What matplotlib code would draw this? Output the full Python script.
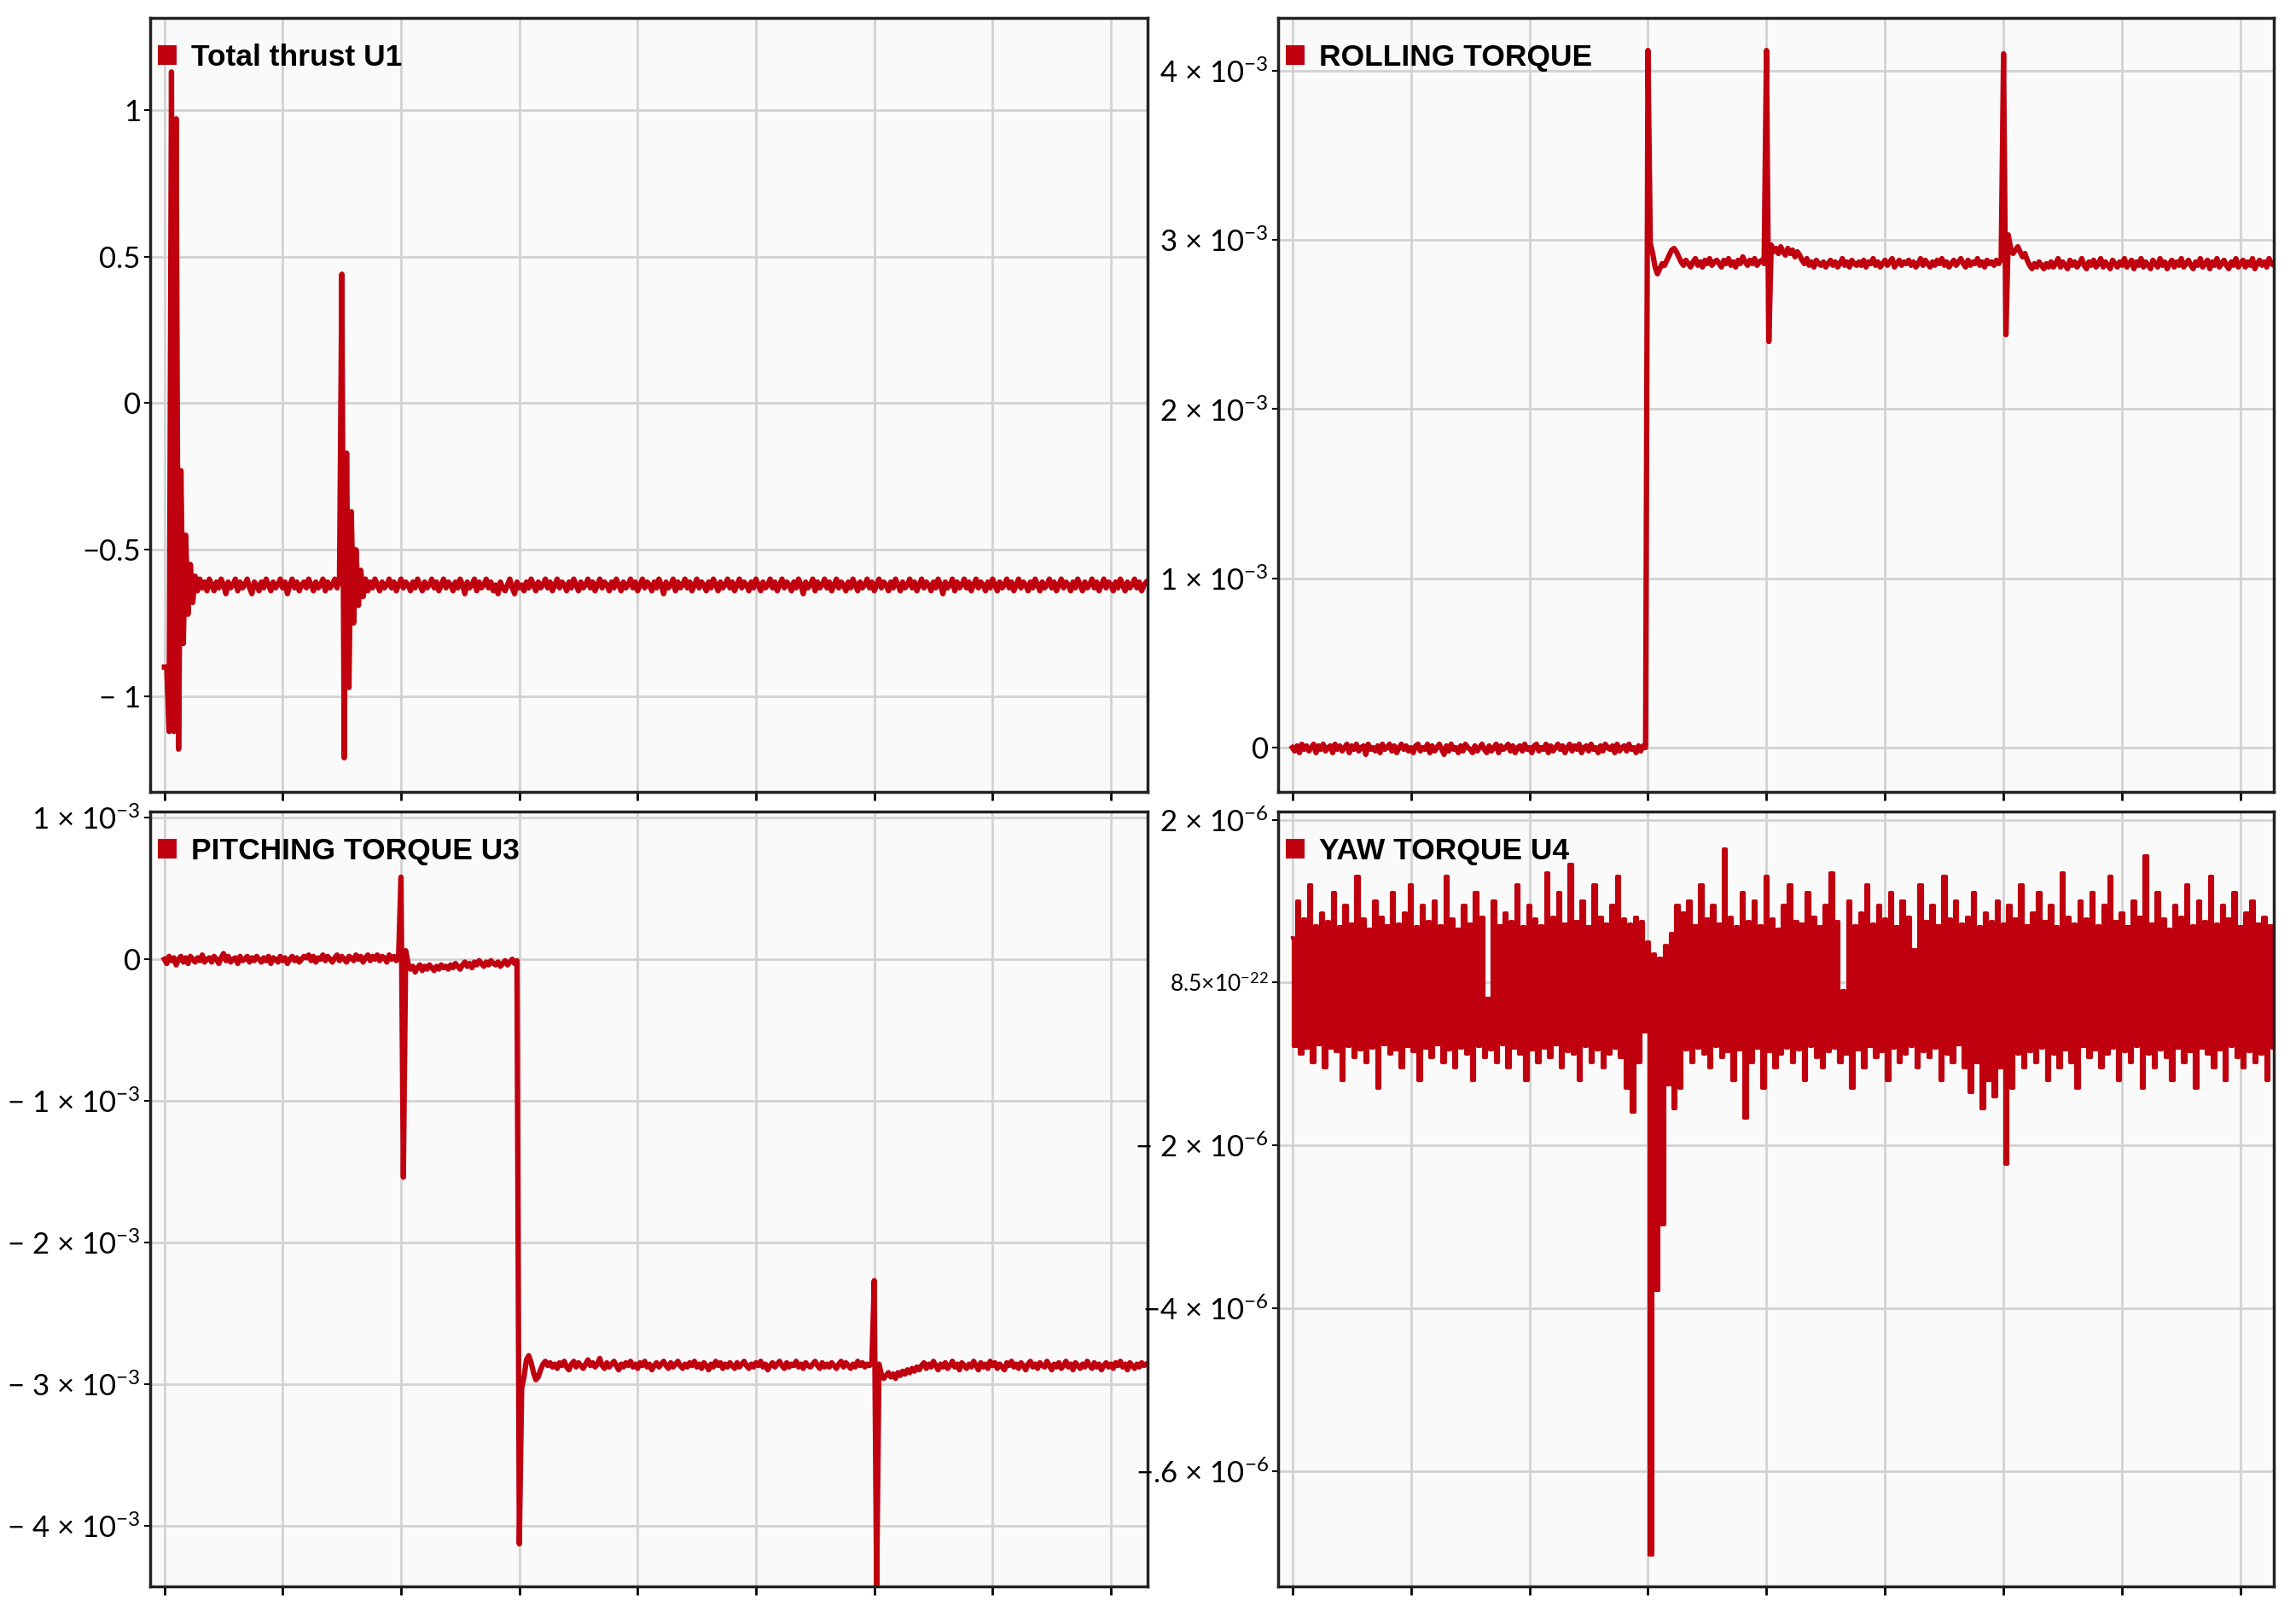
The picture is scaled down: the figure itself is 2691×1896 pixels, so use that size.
# quadrotor control inputs, 4 panels (U1 thrust, U2 roll, U3 pitch, U4 yaw)
# values, torques kept in 1e-3 / 1e-6 units
import numpy as np
import matplotlib.pyplot as plt
from matplotlib.patches import Patch

plt.rcParams['font.family'] = ['Lato', 'DejaVu Sans']
plt.rcParams['mathtext.fontset'] = 'custom'
plt.rcParams['mathtext.rm'] = 'Lato'
plt.rcParams['mathtext.it'] = 'Lato:italic'
plt.rcParams['mathtext.bf'] = 'Lato:bold'

dt = 0.02        # sample step for U1..U3
dt_yaw = 0.025   # yaw drawn as steps

# total thrust U1
u1 = [-0.90, -0.90, -1.12, 1.13, -1.12, 0.97, -1.18, -0.23, -0.82, -0.45, -0.72, -0.55, -0.68, -0.59, -0.64, -0.60, -0.63, -0.61, -0.64, -0.60,
      -0.62, -0.64, -0.61, -0.63, -0.60, -0.62, -0.65, -0.61, -0.63, -0.62, -0.60, -0.64, -0.61, -0.63, -0.62, -0.60, -0.63, -0.65, -0.61, -0.62,
      -0.64, -0.61, -0.63, -0.60, -0.62, -0.64, -0.61, -0.63, -0.62, -0.60, -0.63, -0.61, -0.65, -0.62, -0.60, -0.63, -0.61, -0.64, -0.62, -0.61,
      -0.63, -0.60, -0.62, -0.64, -0.61, -0.63, -0.62, -0.60, -0.64, -0.61, -0.63, -0.62, -0.60, -0.63, -0.60, 0.44, -1.21, -0.17, -0.97, -0.37,
      -0.75, -0.50, -0.69, -0.57, -0.66, -0.60, -0.64, -0.61, -0.63, -0.60, -0.62, -0.64, -0.61, -0.63, -0.62, -0.60, -0.63, -0.61, -0.64, -0.62,
      -0.60, -0.63, -0.61, -0.62, -0.64, -0.61, -0.63, -0.60, -0.62, -0.64, -0.61, -0.63, -0.62, -0.60, -0.63, -0.61, -0.64, -0.62, -0.60, -0.63,
      -0.61, -0.62, -0.64, -0.61, -0.63, -0.60, -0.62, -0.65, -0.61, -0.63, -0.62, -0.60, -0.64, -0.61, -0.63, -0.62, -0.60, -0.63, -0.61, -0.64,
      -0.62, -0.65, -0.61, -0.63, -0.64, -0.62, -0.60, -0.63, -0.65, -0.61, -0.63, -0.62, -0.64, -0.61, -0.63, -0.60, -0.62, -0.64, -0.61, -0.63,
      -0.62, -0.60, -0.63, -0.61, -0.64, -0.62, -0.60, -0.63, -0.61, -0.62, -0.64, -0.61, -0.63, -0.60, -0.62, -0.64, -0.61, -0.63, -0.62, -0.60,
      -0.63, -0.61, -0.64, -0.62, -0.60, -0.63, -0.61, -0.62, -0.64, -0.61, -0.63, -0.60, -0.62, -0.64, -0.61, -0.63, -0.62, -0.60, -0.63, -0.61,
      -0.64, -0.62, -0.60, -0.63, -0.61, -0.62, -0.64, -0.61, -0.63, -0.60, -0.62, -0.65, -0.61, -0.63, -0.62, -0.60, -0.64, -0.61, -0.63, -0.62,
      -0.60, -0.63, -0.61, -0.64, -0.62, -0.60, -0.63, -0.61, -0.62, -0.64, -0.61, -0.63, -0.60, -0.62, -0.64, -0.61, -0.63, -0.62, -0.60, -0.63,
      -0.61, -0.64, -0.62, -0.60, -0.63, -0.61, -0.62, -0.64, -0.61, -0.63, -0.60, -0.62, -0.64, -0.61, -0.63, -0.62, -0.60, -0.63, -0.61, -0.64,
      -0.62, -0.60, -0.63, -0.61, -0.62, -0.64, -0.61, -0.63, -0.60, -0.62, -0.65, -0.61, -0.63, -0.62, -0.60, -0.64, -0.61, -0.63, -0.62, -0.60,
      -0.63, -0.61, -0.64, -0.62, -0.60, -0.63, -0.61, -0.62, -0.64, -0.61, -0.63, -0.60, -0.62, -0.64, -0.61, -0.63, -0.62, -0.60, -0.63, -0.61,
      -0.64, -0.62, -0.60, -0.63, -0.61, -0.62, -0.64, -0.61, -0.63, -0.60, -0.62, -0.64, -0.61, -0.63, -0.62, -0.60, -0.63, -0.61, -0.64, -0.62,
      -0.60, -0.63, -0.61, -0.62, -0.64, -0.61, -0.63, -0.60, -0.62, -0.65, -0.61, -0.63, -0.62, -0.60, -0.64, -0.61, -0.63, -0.62, -0.60, -0.63,
      -0.61, -0.64, -0.62, -0.60, -0.63, -0.61, -0.62, -0.64, -0.61, -0.63, -0.60, -0.62, -0.64, -0.61, -0.63, -0.62, -0.60, -0.63, -0.61, -0.64,
      -0.62, -0.60, -0.63, -0.61, -0.62, -0.64, -0.61, -0.63, -0.60, -0.62, -0.64, -0.61, -0.63, -0.62, -0.60, -0.63, -0.61, -0.64, -0.62, -0.60,
      -0.63, -0.61, -0.62, -0.64, -0.61, -0.63, -0.60, -0.62, -0.64, -0.61, -0.63, -0.62, -0.60, -0.63, -0.61, -0.64, -0.62, -0.60, -0.63, -0.61,
      -0.62, -0.64, -0.61, -0.63, -0.60, -0.62, -0.64, -0.61, -0.63, -0.62, -0.60, -0.63, -0.61, -0.64, -0.62, -0.61]

# rolling torque, x1e-3
u2 = [0.00, -0.02, 0.01, -0.03, 0.02, -0.01, 0.01, -0.02, 0.00, 0.02, -0.03, 0.01, -0.01, 0.02, -0.02, 0.00, 0.01, -0.03, 0.02, -0.01,
      0.01, -0.02, 0.00, 0.02, -0.03, 0.01, -0.01, 0.02, -0.02, 0.00, 0.01, -0.04, 0.02, -0.01, 0.00, -0.02, 0.01, -0.03, 0.02, -0.01,
      0.00, 0.02, -0.02, 0.01, -0.03, 0.00, 0.02, -0.01, 0.01, -0.02, 0.00, -0.03, 0.01, 0.02, -0.02, 0.00, -0.01, 0.02, -0.03, 0.01,
      -0.02, 0.00, 0.02, -0.01, -0.04, 0.01, -0.02, 0.02, -0.01, 0.00, -0.03, 0.01, -0.02, 0.02, 0.00, -0.01, -0.03, 0.01, -0.02, 0.00,
      0.02, -0.01, -0.03, 0.01, -0.02, 0.00, 0.02, -0.03, 0.01, -0.01, 0.00, 0.02, -0.02, 0.01, -0.03, 0.00, 0.01, -0.02, 0.02, -0.01,
      0.00, -0.03, 0.01, 0.02, -0.02, 0.00, -0.01, 0.02, -0.03, 0.01, -0.02, 0.00, 0.02, -0.01, 0.01, -0.03, 0.00, 0.02, -0.02, 0.01,
      -0.01, 0.02, -0.03, 0.00, 0.01, -0.02, 0.02, -0.01, 0.00, -0.03, 0.01, -0.02, 0.02, 0.00, -0.01, 0.01, -0.03, 0.02, -0.02, 0.00,
      0.01, -0.02, 0.02, -0.01, 0.00, -0.03, 0.01, -0.02, 0.01, 0.00, 4.12, 2.98, 2.92, 2.84, 2.80, 2.83, 2.86, 2.85, 2.88, 2.91,
      2.94, 2.95, 2.93, 2.90, 2.87, 2.85, 2.88, 2.86, 2.84, 2.87, 2.89, 2.85, 2.87, 2.84, 2.88, 2.86, 2.89, 2.85, 2.87, 2.88,
      2.86, 2.84, 2.88, 2.86, 2.89, 2.85, 2.87, 2.84, 2.88, 2.86, 2.90, 2.87, 2.85, 2.88, 2.86, 2.89, 2.85, 2.87, 2.88, 2.86,
      4.12, 2.40, 2.97, 2.93, 2.95, 2.92, 2.96, 2.93, 2.91, 2.95, 2.92, 2.94, 2.90, 2.93, 2.91, 2.88, 2.86, 2.89, 2.85, 2.87,
      2.84, 2.88, 2.86, 2.85, 2.87, 2.84, 2.86, 2.88, 2.85, 2.87, 2.84, 2.86, 2.89, 2.85, 2.87, 2.84, 2.88, 2.86, 2.85, 2.87,
      2.85, 2.88, 2.84, 2.87, 2.86, 2.89, 2.85, 2.87, 2.84, 2.86, 2.88, 2.85, 2.87, 2.89, 2.84, 2.86, 2.88, 2.85, 2.87, 2.86,
      2.88, 2.85, 2.87, 2.84, 2.86, 2.89, 2.85, 2.88, 2.86, 2.84, 2.87, 2.85, 2.88, 2.86, 2.89, 2.85, 2.87, 2.84, 2.86, 2.88,
      2.85, 2.87, 2.89, 2.86, 2.84, 2.88, 2.85, 2.87, 2.86, 2.89, 2.85, 2.87, 2.84, 2.88, 2.86, 2.87, 2.85, 2.88, 2.86, 2.89,
      4.10, 2.44, 3.03, 2.95, 2.92, 2.94, 2.96, 2.93, 2.90, 2.92, 2.88, 2.85, 2.83, 2.86, 2.84, 2.87, 2.85, 2.83, 2.86, 2.84,
      2.87, 2.84, 2.86, 2.89, 2.84, 2.87, 2.85, 2.83, 2.88, 2.85, 2.87, 2.84, 2.86, 2.89, 2.85, 2.83, 2.87, 2.85, 2.88, 2.84,
      2.86, 2.89, 2.84, 2.87, 2.85, 2.83, 2.88, 2.86, 2.84, 2.87, 2.85, 2.89, 2.84, 2.86, 2.88, 2.83, 2.87, 2.85, 2.89, 2.84,
      2.87, 2.85, 2.83, 2.88, 2.86, 2.84, 2.89, 2.85, 2.87, 2.83, 2.86, 2.88, 2.84, 2.87, 2.85, 2.89, 2.84, 2.86, 2.88, 2.85,
      2.83, 2.87, 2.85, 2.89, 2.84, 2.86, 2.88, 2.83, 2.87, 2.85, 2.89, 2.84, 2.86, 2.88, 2.85, 2.83, 2.87, 2.85, 2.89, 2.84,
      2.86, 2.88, 2.84, 2.87, 2.85, 2.89, 2.83, 2.86, 2.88, 2.85, 2.87, 2.84, 2.89, 2.86, 2.85, 2.87]

# pitching torque, x1e-3
u3 = [0.00, -0.03, 0.02, -0.01, 0.01, -0.04, 0.00, 0.02, -0.02, 0.01, -0.03, 0.02, 0.00, -0.02, 0.01, -0.01, 0.03, -0.02, 0.00, 0.01,
      -0.02, 0.02, 0.00, -0.03, 0.01, 0.04, -0.01, 0.02, -0.02, 0.00, 0.01, -0.03, 0.02, -0.01, 0.00, 0.02, -0.02, 0.01, -0.01, 0.02,
      0.00, -0.02, 0.01, -0.01, 0.02, -0.03, 0.01, 0.00, -0.02, 0.02, -0.01, 0.01, -0.03, 0.00, 0.02, -0.01, 0.01, -0.02, 0.00, 0.02,
      0.01, 0.03, -0.01, 0.02, -0.02, 0.01, 0.00, 0.03, -0.01, 0.02, 0.00, -0.02, 0.01, 0.03, -0.01, 0.02, 0.00, -0.02, 0.02, 0.01,
      -0.01, 0.03, 0.00, 0.02, -0.02, 0.01, 0.03, -0.01, 0.02, 0.00, 0.03, -0.01, 0.02, 0.01, -0.02, 0.03, 0.00, 0.02, -0.01, 0.03,
      0.58, -1.54, 0.06, -0.03, -0.07, -0.05, -0.09, -0.06, -0.04, -0.08, -0.05, -0.07, -0.04, -0.06, -0.08, -0.05, -0.07, -0.04, -0.06, -0.05,
      -0.07, -0.04, -0.06, -0.03, -0.05, -0.07, -0.04, -0.02, -0.05, -0.03, -0.06, -0.02, -0.04, -0.01, -0.03, -0.05, -0.02, -0.04, -0.01, -0.03,
      -0.04, -0.02, -0.05, -0.03, -0.01, -0.04, -0.02, 0.00, -0.03, -0.01, -4.13, -3.03, -2.95, -2.83, -2.80, -2.85, -2.92, -2.97, -2.95, -2.90,
      -2.86, -2.84, -2.87, -2.85, -2.88, -2.86, -2.89, -2.85, -2.87, -2.84, -2.88, -2.90, -2.86, -2.84, -2.88, -2.85, -2.87, -2.89, -2.86, -2.83,
      -2.87, -2.85, -2.88, -2.86, -2.82, -2.87, -2.89, -2.85, -2.88, -2.86, -2.84, -2.87, -2.90, -2.86, -2.88, -2.85, -2.87, -2.84, -2.88, -2.86,
      -2.89, -2.85, -2.87, -2.84, -2.88, -2.86, -2.90, -2.87, -2.85, -2.88, -2.86, -2.84, -2.87, -2.89, -2.85, -2.88, -2.86, -2.84, -2.87, -2.89,
      -2.86, -2.88, -2.85, -2.87, -2.84, -2.88, -2.86, -2.89, -2.85, -2.87, -2.90, -2.86, -2.88, -2.84, -2.87, -2.85, -2.89, -2.86, -2.88, -2.85,
      -2.87, -2.89, -2.85, -2.88, -2.86, -2.84, -2.87, -2.89, -2.86, -2.88, -2.85, -2.87, -2.84, -2.88, -2.86, -2.90, -2.87, -2.85, -2.88, -2.86,
      -2.84, -2.87, -2.89, -2.85, -2.88, -2.86, -2.87, -2.84, -2.88, -2.86, -2.89, -2.85, -2.87, -2.88, -2.86, -2.84, -2.87, -2.89, -2.85, -2.88,
      -2.86, -2.88, -2.85, -2.87, -2.89, -2.86, -2.84, -2.88, -2.85, -2.87, -2.89, -2.86, -2.88, -2.84, -2.87, -2.85, -2.88, -2.86, -2.87, -2.85,
      -2.27, -4.45, -2.86, -2.93, -2.96, -2.94, -2.92, -2.95, -2.93, -2.96, -2.92, -2.94, -2.91, -2.93, -2.90, -2.92, -2.89, -2.91, -2.88, -2.90,
      -2.87, -2.85, -2.89, -2.86, -2.88, -2.84, -2.87, -2.90, -2.86, -2.88, -2.85, -2.89, -2.87, -2.84, -2.88, -2.86, -2.90, -2.85, -2.87, -2.89,
      -2.86, -2.88, -2.84, -2.87, -2.90, -2.85, -2.88, -2.86, -2.89, -2.84, -2.87, -2.85, -2.89, -2.86, -2.88, -2.90, -2.85, -2.87, -2.84, -2.88,
      -2.86, -2.89, -2.85, -2.87, -2.90, -2.86, -2.84, -2.88, -2.86, -2.89, -2.85, -2.87, -2.88, -2.84, -2.87, -2.90, -2.86, -2.88, -2.85, -2.89,
      -2.87, -2.84, -2.88, -2.86, -2.90, -2.85, -2.87, -2.89, -2.86, -2.88, -2.84, -2.87, -2.89, -2.85, -2.88, -2.86, -2.90, -2.87, -2.85, -2.88,
      -2.86, -2.89, -2.85, -2.87, -2.84, -2.88, -2.86, -2.90, -2.85, -2.87, -2.89, -2.86, -2.88, -2.85, -2.87, -2.86]

# yaw torque, x1e-6 (alternating high/low, it is basically a noise band)
u4 = [0.55, -0.78, 1.00, -0.88, 0.78, -0.80, 1.20, -0.98, 0.70, -0.76, 0.85, -1.05,
      0.75, -0.80, 1.10, -0.85, 0.68, -1.20, 0.95, -0.78, 0.72, -0.92, 1.30, -0.82,
      0.78, -0.98, 0.65, -0.80, 1.00, -1.30, 0.80, -0.76, 0.70, -0.88, 1.10, -0.82,
      0.72, -1.05, 0.85, -0.78, 1.20, -0.85, 0.68, -1.20, 0.95, -0.80, 0.75, -0.92,
      1.00, -0.76, 0.70, -0.98, 1.30, -0.82, 0.78, -1.05, 0.65, -0.80, 0.95, -0.88,
      0.72, -1.20, 1.10, -0.78, 0.80, -0.92, -0.20, -0.82, 1.00, -0.98, 0.70, -0.76,
      0.85, -1.05, 0.75, -0.80, 1.20, -0.88, 0.68, -1.20, 0.95, -0.82, 0.78, -0.98,
      0.70, -0.80, 1.35, -0.92, 0.80, -0.76, 1.10, -1.05, 0.72, -0.85, 1.45, -0.88,
      0.75, -1.20, 1.00, -0.78, 0.68, -0.98, 1.20, -0.82, 0.80, -1.05, 0.72, -0.88,
      0.95, -0.80, 1.30, -0.92, 0.78, -1.30, 0.72, -1.59, 0.80, -0.98, 0.75, -0.60,
      0.50, -7.03, 0.35, -3.78, 0.30, -2.97, 0.45, -1.25, 0.60, -1.55, 0.95, -1.30,
      0.85, -0.82, 1.00, -0.98, 0.70, -0.80, 1.20, -0.88, 0.78, -1.05, 0.95, -0.78,
      0.72, -0.92, 1.64, -0.85, 0.80, -1.20, 0.68, -0.82, 1.10, -1.66, 0.75, -0.98,
      1.00, -0.80, 0.70, -1.30, 1.30, -0.85, 0.78, -1.05, 0.65, -0.88, 0.95, -0.80,
      1.20, -0.98, 0.75, -0.82, 0.72, -1.20, 1.10, -0.78, 0.80, -0.92, 0.68, -1.05,
      0.95, -0.85, 1.35, -0.80, 0.75, -0.98, -0.10, -0.88, 1.00, -1.30, 0.70, -0.82,
      0.85, -1.05, 1.20, -0.78, 0.72, -0.92, 0.95, -0.85, 0.78, -1.20, 1.10, -0.80,
      0.68, -0.98, 1.00, -0.88, 0.80, -0.78, 0.40, -1.05, 1.20, -0.85, 0.75, -0.92,
      0.95, -0.80, 0.70, -1.20, 1.30, -0.88, 0.78, -0.98, 1.00, -0.76, 0.72, -1.05,
      0.80, -1.35, 1.10, -0.98, 0.68, -1.55, 0.85, -1.20, 0.75, -1.40, 1.00, -1.05,
      0.72, -2.23, 0.95, -1.30, 0.78, -0.88, 1.20, -1.05, 0.70, -0.85, 0.85, -0.98,
      1.10, -0.80, 0.75, -1.20, 0.95, -0.88, 0.68, -1.05, 1.35, -0.82, 0.80, -0.98,
      0.72, -1.30, 1.00, -0.78, 0.78, -0.92, 1.10, -0.82, 0.70, -1.05, 0.95, -0.88,
      1.30, -0.80, 0.75, -1.20, 0.85, -0.85, 0.68, -0.98, 1.00, -0.78, 0.80, -1.30,
      1.55, -0.88, 0.72, -1.05, 1.10, -0.82, 0.78, -0.92, 0.65, -1.20, 0.95, -0.80,
      0.80, -0.98, 1.20, -0.85, 0.70, -1.30, 1.00, -0.80, 0.75, -0.88, 1.30, -1.05,
      0.72, -0.82, 0.95, -1.20, 0.78, -0.78, 1.10, -0.92, 0.68, -1.05, 0.85, -0.85,
      1.00, -0.98, 0.72, -0.88, 0.80, -1.20, 0.70, -0.80]

names = ["Total thrust U1", "ROLLING TORQUE", "PITCHING TORQUE U3", "YAW TORQUE U4"]

u1_ticks = [1, 0.5, 0, -0.5, -1]
u1_labels = ["1", "0.5", "0", "\u22120.5", "\u2212 1"]
u2_ticks = [4, 3, 2, 1, 0]
u2_labels = ["4 \u00d7 10$^{-3}$", "3 \u00d7 10$^{-3}$", "2 \u00d7 10$^{-3}$", "1 \u00d7 10$^{-3}$", "0"]
u3_ticks = [1, 0, -1, -2, -3, -4]
u3_labels = ["1 \u00d7 10$^{-3}$", "0", "\u2212 1 \u00d7 10$^{-3}$", "\u2212 2 \u00d7 10$^{-3}$",
             "\u2212 3 \u00d7 10$^{-3}$", "\u2212 4 \u00d7 10$^{-3}$"]
u4_ticks = [2, 0, -2, -4, -6]
u4_labels = ["2 \u00d7 10$^{-6}$", "8.5\u00d710$^{-22}$", "\u2212 2 \u00d7 10$^{-6}$",
             "\u22124 \u00d7 10$^{-6}$", "\u2212.6 \u00d7 10$^{-6}$"]

red = "#c0000f"
W, H = 2691, 1896
fig = plt.figure(figsize=(W/100, H/100), dpi=100)

def box(l, r, top, bot):
    return [l/W, 1 - bot/H, (r - l)/W, (bot - top)/H]

def panel(rect, y, step, xlim, ylim, ticks, labels, name, lw=3.0, ds="default"):
    ax = fig.add_axes(rect)
    ax.set_facecolor("#fafafa")
    t = np.arange(len(y)) * step
    ax.plot(t, y, color=red, lw=lw, drawstyle=ds)
    ax.set_xlim(*xlim)
    ax.set_ylim(*ylim)
    ax.set_xticks(range(9))
    ax.set_xticklabels([])
    ax.set_yticks(ticks)
    ax.set_yticklabels(labels)
    ax.grid(True, color="#d2d2d2", lw=2)
    ax.set_axisbelow(True)
    ax.tick_params(axis="y", labelsize=25, length=5, width=1.5, pad=3)
    ax.tick_params(axis="x", length=7, width=2)
    for s in ax.spines.values():
        s.set_linewidth(2.5)
        s.set_color("#222222")
    ax.legend(handles=[Patch(facecolor=red, label=name)], loc="upper left",
              bbox_to_anchor=(0.002, 0.975), borderaxespad=0, borderpad=0.2,
              frameon=False, handlelength=0.6, handleheight=0.6, handletextpad=0.5,
              prop={"family": "Liberation Sans", "size": 25.5, "weight": "bold"})
    return ax

panel(box(176, 1345, 21, 928), u1, dt, (-0.12, 8.31), (-1.326, 1.314),
      u1_ticks, u1_labels, names[0], lw=4.5)
panel(box(1498, 2665, 21, 928), u2, dt, (-0.12, 8.28), (-0.262, 4.312),
      u2_ticks, u2_labels, names[1], lw=4.5)
panel(box(176, 1345, 951, 1859), u3, dt, (-0.12, 8.31), (-4.43, 1.043),
      u3_ticks, u3_labels, names[2], lw=4.5)
ax4 = panel(box(1498, 2665, 951, 1859), u4, dt_yaw, (-0.12, 8.28), (-7.42, 2.10),
            u4_ticks, u4_labels, names[3], lw=3.0, ds="steps-mid")
ax4.get_yticklabels()[1].set_fontsize(19)

plt.savefig("out.png", dpi=100)
